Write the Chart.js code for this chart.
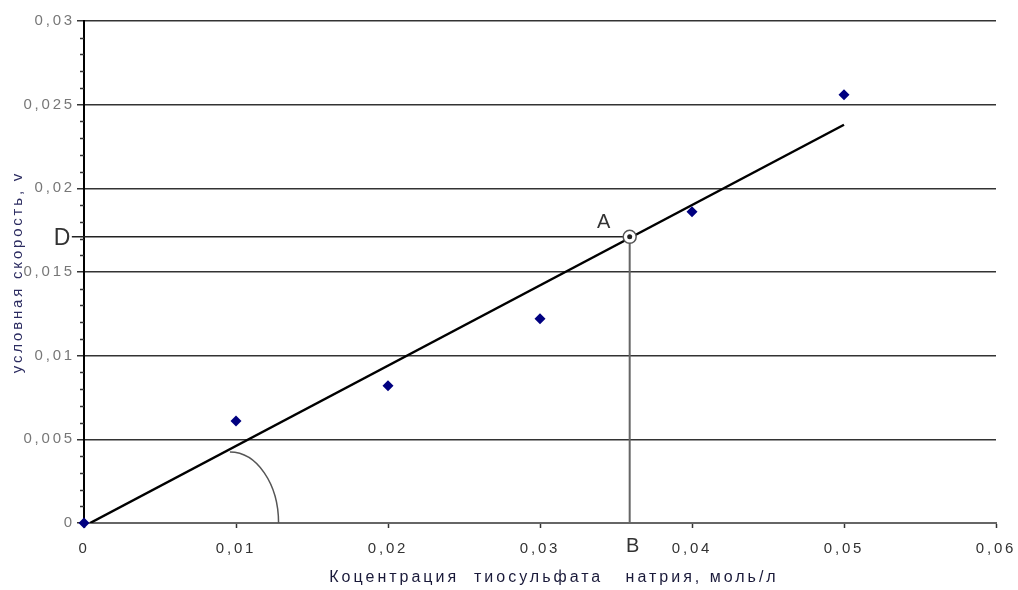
<!DOCTYPE html>
<html><head><meta charset="utf-8">
<script src="https://cdn.jsdelivr.net/npm/chart.js@4/dist/chart.umd.min.js"></script>
<style>html,body{margin:0;background:#fff}</style>
</head><body>
<canvas id="c" width="1018" height="590"></canvas>
<script>
// ---- data ----
const concentrations = [0, 0.01, 0.02, 0.03, 0.04, 0.05];
const rates = [0, 0.0061, 0.0082, 0.0122, 0.0186, 0.0256];
const trendX = [0.0004, 0.05];
const trendY = [0, 0.0238];
const pointA = [0.0359, 0.0171];
const dLineStartX = -0.0008;
const xTickValues = [0, 0.01, 0.02, 0.03, 0.04, 0.05, 0.06];
const yTickValues = [0, 0.005, 0.01, 0.015, 0.02, 0.025, 0.03];
const yMinorStep = 0.001;
const arcCenter = [0.0096, 0];
const arcRadii = [0.0032, 0.00424];
const xTitle = 'Коцентрация  тиосульфата   натрия, моль/л';
const yTitle = 'условная скорость, v';

const fmt = v => String(+(+v).toFixed(3)).replace('.', ',');
const FONT = '"Liberation Sans", Arial, sans-serif';

const decor = {
  id: 'decor',
  beforeDraw(chart) {
    chart.ctx.letterSpacing = '2.8px';
  },
  beforeDatasetsDraw(chart) {
    const {ctx, scales: {y}, chartArea} = chart;
    ctx.save();
    ctx.strokeStyle = '#333';
    ctx.lineWidth = 1.5;
    for (let i = 0; i <= 30; i++) {
      if (i % 5 === 0) continue;
      const py = Math.round(y.getPixelForValue(i * yMinorStep)) + 0.5;
      ctx.beginPath();
      ctx.moveTo(chartArea.left - 4, py);
      ctx.lineTo(chartArea.left, py);
      ctx.stroke();
    }
    ctx.restore();
  },
  afterDraw(chart) {
    const {ctx, scales: {x, y}, chartArea} = chart;
    ctx.save();
    ctx.letterSpacing = '0px';
    // angle arc
    const cx = x.getPixelForValue(arcCenter[0]);
    const cy = y.getPixelForValue(arcCenter[1]);
    const rx = x.getPixelForValue(arcCenter[0] + arcRadii[0]) - cx;
    const ry = cy - y.getPixelForValue(arcCenter[1] + arcRadii[1]);
    ctx.strokeStyle = '#555';
    ctx.lineWidth = 1.5;
    ctx.beginPath();
    ctx.ellipse(cx, cy, rx, ry, 0, -Math.PI / 2, 0);
    ctx.stroke();
    // letters
    const ax = x.getPixelForValue(pointA[0]);
    const ay = y.getPixelForValue(pointA[1]);
    ctx.fillStyle = '#333';
    ctx.textAlign = 'center';
    ctx.textBaseline = 'middle';
    ctx.font = '20px ' + FONT;
    ctx.fillText('A', ax - 26, ay - 14);
    ctx.font = '23px ' + FONT;
    ctx.fillText('D', chartArea.left - 22, ay + 2);
    ctx.font = '20px ' + FONT;
    ctx.fillText('B', ax + 3, chartArea.bottom + 23);
    // x axis title
    ctx.letterSpacing = '3px';
    ctx.fillStyle = '#1a1a3a';
    ctx.font = '16px ' + FONT;
    ctx.fillText(xTitle, (chartArea.left + chartArea.right) / 2 + 14, 578);
    ctx.restore();
    ctx.letterSpacing = '0px';
  }
};

new Chart(document.getElementById('c'), {
  type: 'scatter',
  data: {
    datasets: [
      {
        label: 'A-inner', order: 0,
        data: [{x: pointA[0], y: pointA[1]}],
        pointStyle: 'circle', pointRadius: 2.5,
        backgroundColor: '#222', borderColor: '#222', borderWidth: 0
      },
      {
        label: 'A', order: 1,
        data: [{x: pointA[0], y: pointA[1]}],
        pointStyle: 'circle', pointRadius: 6.5,
        backgroundColor: '#fff', borderColor: '#555', borderWidth: 1.5
      },
      {
        label: 'measured', order: 2, clip: false,
        data: concentrations.map((c, i) => ({x: c, y: rates[i]})),
        pointStyle: 'rectRot', pointRadius: 5.5,
        backgroundColor: '#000080', borderColor: '#000080', borderWidth: 0
      },
      {
        label: 'trend', order: 3, showLine: true,
        data: trendX.map((v, i) => ({x: v, y: trendY[i]})),
        borderColor: '#000', borderWidth: 2.5, pointRadius: 0
      },
      {
        label: 'AB', order: 4, showLine: true,
        data: [{x: pointA[0], y: pointA[1]}, {x: pointA[0], y: 0}],
        borderColor: '#666', borderWidth: 2, pointRadius: 0
      },
      {
        label: 'DA', order: 5, showLine: true, clip: false,
        data: [{x: dLineStartX, y: pointA[1]}, {x: pointA[0], y: pointA[1]}],
        borderColor: '#222', borderWidth: 1.5, pointRadius: 0
      }
    ]
  },
  options: {
    responsive: false,
    animation: false,
    devicePixelRatio: 1,
    layout: {padding: {top: 21, right: 22, left: 0, bottom: 0}},
    plugins: {legend: {display: false}, tooltip: {enabled: false}},
    scales: {
      x: {
        type: 'linear', min: 0, max: 0.06,
        afterBuildTicks: s => { s.ticks = xTickValues.map(v => ({value: v})); },
        afterFit: s => { s.height = 67; s.paddingLeft = 0; s.paddingRight = 0; },
        ticks: {callback: v => fmt(v), color: '#333', font: {family: FONT, size: 15}, padding: 12, maxRotation: 0},
        grid: {drawOnChartArea: false, drawTicks: true, tickLength: 5, tickColor: '#333', tickWidth: 1.5},
        border: {color: '#666', width: 2},
        title: {display: false}
      },
      y: {
        type: 'linear', min: 0, max: 0.03,
        afterBuildTicks: s => { s.ticks = yTickValues.map(v => ({value: v})); },
        afterFit: s => { s.width = 84; s.paddingTop = 0; s.paddingBottom = 0; },
        ticks: {callback: v => fmt(v), color: '#777', font: {family: FONT, size: 15}, padding: 2},
        grid: {color: '#333', lineWidth: 1.5, tickLength: 7, tickColor: '#333', tickWidth: 1.5},
        border: {color: '#000', width: 2},
        title: {display: true, text: yTitle, color: '#2b2b60', font: {family: FONT, size: 15}, padding: {top: 9, bottom: 0}}
      }
    }
  },
  plugins: [decor]
});
</script>
</body></html>
